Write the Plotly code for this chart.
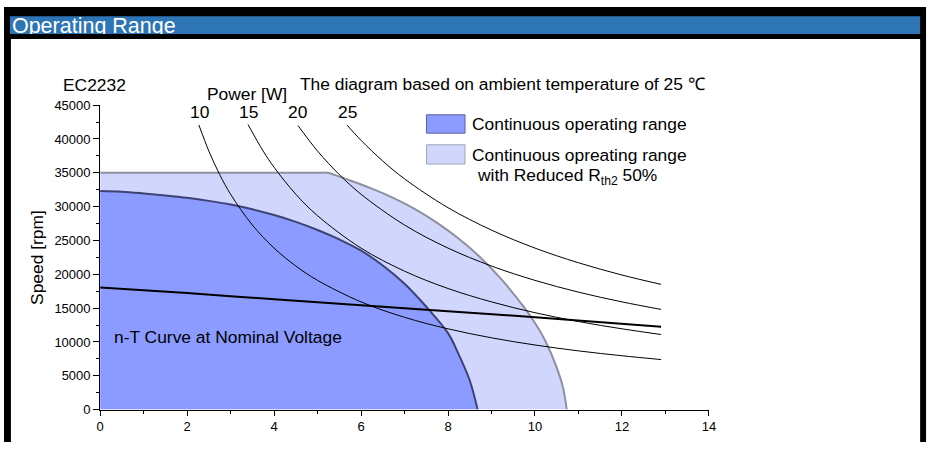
import plotly.graph_objects as go

# ---------------- data ----------------
# Torque [mNm] / Speed [rpm]
T_red = [0, 5.05, 5.22, 5.75, 6.25, 6.75, 7.25, 7.75, 8.25, 8.75, 9.25, 9.75, 10.0, 10.25, 10.5, 10.65, 10.73]
n_red = [35000, 35000, 35000, 33850, 32650, 31250, 29600, 27600, 25250, 22450, 19100, 15100, 12800, 10000, 6200, 3100, 0]

T_cont = [0, 0.5, 1, 1.5, 2, 2.5, 3, 3.5, 4, 4.5, 5, 5.5, 6, 6.5, 7, 7.5, 8, 8.25, 8.5, 8.68]
n_cont = [32300, 32200, 31950, 31650, 31300, 30850, 30300, 29600, 28750, 27750, 26550, 25150,
          23500, 21300, 18600, 15200, 11300, 8100, 4300, 0]

T_nt = [0, 2, 4, 6, 8, 10, 12.9]
n_nt = [18050, 17230, 16300, 15430, 14550, 13650, 12250]

power_labels = ["10", "15", "20", "25"]
T_10 = [2.27, 2.5, 2.75, 3.0, 3.5, 4.0, 4.5, 5.0, 6.0, 7.0, 8.0, 9.0, 10.0, 11.0, 12.0, 12.9]
n_10 = [42070, 38200, 34720, 31830, 27280, 23870, 21220, 19100, 15920, 13640, 11940, 10610, 9550, 8680, 7960, 7400]
T_15 = [3.4, 3.75, 4.0, 4.5, 5.0, 6.0, 7.0, 8.0, 9.0, 10.0, 11.0, 12.0, 12.9]
n_15 = [42130, 38200, 35810, 31830, 28650, 23870, 20460, 17900, 15920, 14320, 13020, 11940, 11100]
T_20 = [4.55, 5.0, 5.5, 6.0, 7.0, 8.0, 9.0, 10.0, 11.0, 12.0, 12.9]
n_20 = [41980, 38200, 34730, 31830, 27280, 23870, 21220, 19100, 17360, 15920, 14810]
T_25 = [5.68, 6.0, 6.5, 7.0, 8.0, 9.0, 10.0, 11.0, 12.0, 12.9]
n_25 = [42030, 39790, 36730, 34100, 29840, 26530, 23870, 21700, 19890, 18510]

x_ticks = [0, 2, 4, 6, 8, 10, 12, 14]
y_ticks = [0, 5000, 10000, 15000, 20000, 25000, 30000, 35000, 40000, 45000]
y_ticktext = [str(v) for v in y_ticks]

# ---------------- layout helpers ----------------
W, H = 938, 450
FONT = "Liberation Sans, Arial, sans-serif"


def px(x):
    return x / W


def py(y):
    return 1 - y / H


fig = go.Figure()

# reduced Rth2 range (light)
fig.add_trace(go.Scatter(
    x=T_red, y=n_red, mode="lines", fill="tozeroy", fillcolor="#d1d6fc",
    line=dict(color="#8e8f9f", width=2, shape="spline", smoothing=0.9),
    hoverinfo="skip"))
# continuous range (dark)
fig.add_trace(go.Scatter(
    x=T_cont, y=n_cont, mode="lines", fill="tozeroy", fillcolor="#8c9bff",
    line=dict(color="#3d4275", width=2, shape="spline", smoothing=1.0),
    hoverinfo="skip"))
# power hyperbolas
for Tp, npow in [(T_10, n_10), (T_15, n_15), (T_20, n_20), (T_25, n_25)]:
    fig.add_trace(go.Scatter(
        x=Tp, y=npow, mode="lines",
        line=dict(color="black", width=1, shape="spline", smoothing=1.0),
        hoverinfo="skip"))
# n-T curve
fig.add_trace(go.Scatter(
    x=T_nt, y=n_nt, mode="lines",
    line=dict(color="black", width=2, shape="spline", smoothing=0.6),
    hoverinfo="skip"))

# header text (clipped inside the header band)
fig.add_trace(go.Scatter(
    x=[0.0022], y=[0.35], mode="text", text=["Operating Range"],
    textposition="middle right",
    textfont=dict(color="white", size=21.5, family=FONT),
    xaxis="x2", yaxis="y2", cliponaxis=True, hoverinfo="skip"))

shapes = [
    dict(type="rect", xref="paper", yref="paper", x0=0, x1=px(933), y0=0, y1=1,
         fillcolor="black", line=dict(width=0), layer="below"),
    dict(type="rect", xref="paper", yref="paper", x0=px(6), x1=px(927), y0=py(28), y1=py(9.5),
         fillcolor="#2e75b6", line=dict(width=0), layer="below"),
    dict(type="rect", xref="paper", yref="paper", x0=px(7), x1=px(927), y0=0, y1=py(33),
         fillcolor="white", line=dict(width=0), layer="below"),
    # legend swatches
    dict(type="rect", xref="paper", yref="paper", x0=px(427.5), x1=px(466.5), y0=py(130.5), y1=py(111.5),
         fillcolor="#8c9bff", line=dict(color="#56609f", width=1), layer="above"),
    dict(type="rect", xref="paper", yref="paper", x0=px(427.5), x1=px(466.5), y0=py(162.5), y1=py(142.5),
         fillcolor="#d1d6fc", line=dict(color="#a3a6b6", width=1), layer="above"),
]


def ann(text, x, y, size=17.4, xanchor="left", angle=0):
    return dict(text=text, x=px(x), y=py(y), xref="paper", yref="paper",
                xanchor=xanchor, yanchor="middle", showarrow=False, textangle=angle,
                font=dict(size=size, color="black", family=FONT))


annotations = [
    ann("EC2232", 58, 81),
    ann("The diagram based on ambient temperature of 25 \u2103", 297, 79.5),
    ann("Power [W]", 246.3, 90.5, xanchor="center"),
    ann("Continuous operating range", 471.5, 121),
    ann("Continuous opreating range", 471.5, 153),
    ann("with Reduced R<sub>th2</sub> 50%", 476.5, 175.5),
    ann("n-T Curve at Nominal Voltage", 109, 341),
    ann("Speed [rpm]", 34, 259, xanchor="center", angle=-90),
]
for lab, xc in zip(power_labels, [197.5, 247.5, 296.7, 347.5]):
    annotations.append(ann(lab, xc, 108.5, xanchor="center"))

fig.update_layout(
    width=W, height=H, autosize=False,
    margin=dict(l=0, r=0, t=0, b=0, pad=0),
    paper_bgcolor="white", plot_bgcolor="rgba(0,0,0,0)",
    showlegend=False,
    font=dict(family=FONT, color="black"),
    shapes=shapes, annotations=annotations,
    xaxis=dict(domain=[px(97.3), px(713.3)], range=[0, 14], anchor="y",
               tickvals=x_ticks, ticks="outside", ticklen=5, tickwidth=1, tickcolor="black",
               minor=dict(ticks="outside", ticklen=3, tickcolor="black", dtick=1),
               showline=True, linecolor="black", linewidth=1, showgrid=False, zeroline=False,
               tickfont=dict(size=13, color="black", family=FONT), fixedrange=True),
    yaxis=dict(domain=[py(416.5), py(101.5)], range=[0, 45000], anchor="x",
               tickvals=y_ticks, ticktext=y_ticktext, ticks="outside", ticklen=6, tickwidth=1,
               tickcolor="black",
               minor=dict(ticks="outside", ticklen=3, tickcolor="black", dtick=2500),
               showline=True, linecolor="black", linewidth=1, showgrid=False, zeroline=False,
               tickfont=dict(size=13, color="black", family=FONT), fixedrange=True),
    xaxis2=dict(domain=[px(6), px(927)], range=[0, 1], anchor="y2", visible=False, fixedrange=True),
    yaxis2=dict(domain=[py(28), py(9.5)], range=[0, 1], anchor="x2", visible=False, fixedrange=True),
)

POST = """
(function(){
  var d = document.documentElement, b = document.body;
  d.style.margin = '0'; d.style.padding = '0'; d.style.overflow = 'hidden';
  b.style.margin = '0'; b.style.padding = '0'; b.style.overflow = 'hidden';
})();
"""

fig.write_html("out.html", config={"displayModeBar": False}, post_script=POST)
